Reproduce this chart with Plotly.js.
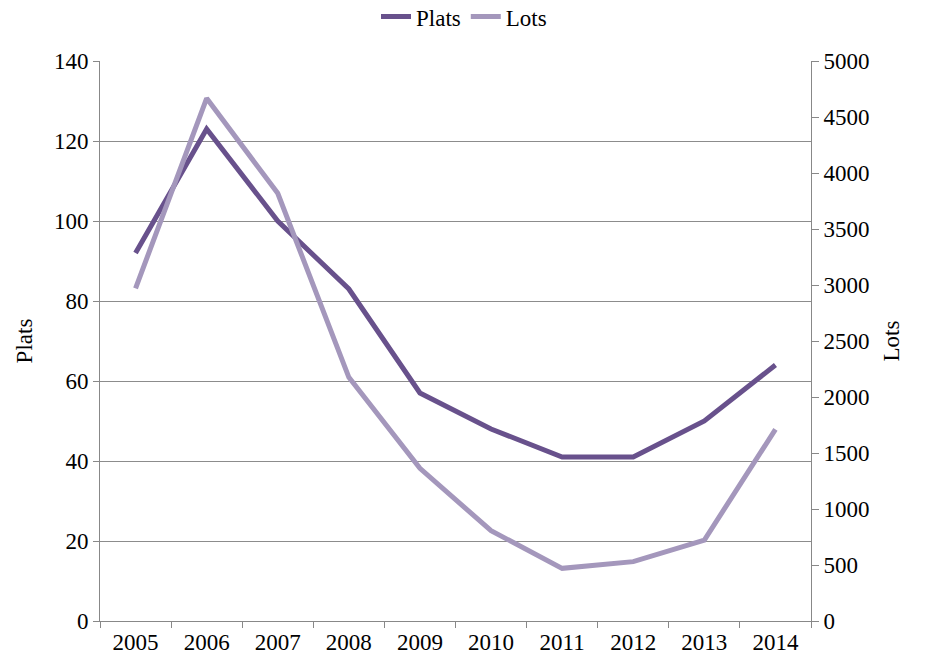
<!DOCTYPE html>
<html>
<head>
<meta charset="utf-8">
<script src="https://cdn.plot.ly/plotly-3.0.1.min.js"></script>
<style>html,body{margin:0;padding:0;background:#fff}#chart{width:928px;height:666px}</style>
</head>
<body>
<div id="chart"></div>
<script>
const years = ["2005","2006","2007","2008","2009","2010","2011","2012","2013","2014"];
const plats = [92, 123, 100, 83, 57, 48, 41, 41, 50, 64];
const lots = [2970, 4667, 3819, 2176, 1363, 806, 470, 530, 723, 1711];
const leftTicks = [0, 20, 40, 60, 80, 100, 120, 140];
const rightTicks = [0, 500, 1000, 1500, 2000, 2500, 3000, 3500, 4000, 4500, 5000];

const font = {family: "Liberation Serif", size: 23, color: "#000"};

const traces = [
  {x: years, y: plats, name: "Plats", type: "scatter", mode: "lines",
   line: {color: "#68518C", width: 5}, yaxis: "y"},
  {x: years, y: lots, name: "Lots", type: "scatter", mode: "lines",
   line: {color: "#A497BC", width: 5}, yaxis: "y2"}
];

const layout = {
  width: 928, height: 666,
  margin: {l: 100, r: 117, t: 61, b: 45, autoexpand: false},
  paper_bgcolor: "#fff", plot_bgcolor: "#fff",
  font: font,
  showlegend: true,
  legend: {orientation: "h", x: 0.5, xref: "container", xanchor: "center",
           y: 0.975, yref: "container", yanchor: "middle",
           font: font, itemwidth: 30, tracegroupgap: 0},
  xaxis: {type: "category", range: [-0.5, 9.5], tickson: "boundaries", automargin: false,
          ticks: "outside", ticklen: 6, tickcolor: "#888", showline: true, linecolor: "#888",
          linewidth: 1, showgrid: false, zeroline: false, tickfont: font},
  yaxis: {range: [0, 140], tickvals: leftTicks, ticks: "outside", ticklen: 6, tickcolor: "#888",
          showline: true, linecolor: "#888", showgrid: true, gridcolor: "#8c8c8c", gridwidth: 1,
          zeroline: false, tickfont: font, automargin: false,
          title: {text: "Plats", font: font, standoff: 14}},
  yaxis2: {range: [0, 5000], tickvals: rightTicks, overlaying: "y", side: "right",
           ticks: "outside", ticklen: 7, tickcolor: "#888", showline: true, linecolor: "#888",
           showgrid: false, zeroline: false, tickfont: font, automargin: false,
           title: {text: "Lots", font: font, standoff: 14}}
};

Plotly.newPlot("chart", traces, layout, {displayModeBar: false, staticPlot: true});
</script>
</body>
</html>
